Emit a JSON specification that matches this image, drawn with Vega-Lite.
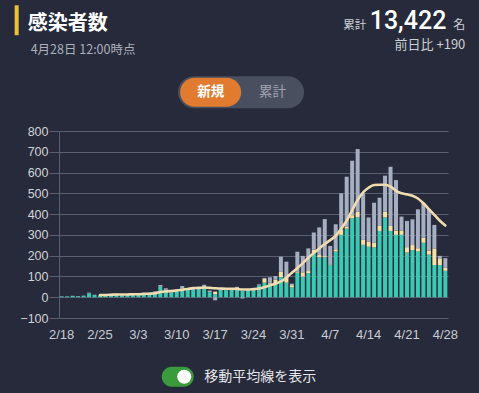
{
  "$schema": "https://vega.github.io/schema/vega-lite/v6.json",
  "width": 389,
  "height": 187,
  "autosize": {"type": "none"},
  "padding": {"left": 59, "top": 131, "right": 31, "bottom": 75},
  "background": "#262A3A",
  "config": {
    "view": {"stroke": null},
    "font": "Noto Sans CJK JP",
    "axis": {"labelFont": "Liberation Sans"},
    "axisY": {
      "labelOverlap": false,
      "tickCount": 10,
      "grid": true,
      "gridColor": "#5A5F6F",
      "domainColor": "#5A5F6F",
      "tickColor": "#5A5F6F",
      "tickSize": 10,
      "labelPadding": 1,
      "labelFontSize": 12.5,
      "labelColor": "#D0D3DA"
    }
  },
  "data": {
    "values": [
      {"d": "2/18", "domestic": 4, "port": 0, "unknown": 1},
      {"d": "2/19", "domestic": 4, "port": 0, "unknown": 1},
      {"d": "2/20", "domestic": 6, "port": 0, "unknown": 1},
      {"d": "2/21", "domestic": 5, "port": 0, "unknown": 1},
      {"d": "2/22", "domestic": 7, "port": 0, "unknown": 1},
      {"d": "2/23", "domestic": 19, "port": 0, "unknown": 3},
      {"d": "2/24", "domestic": 11, "port": 0, "unknown": 1},
      {"d": "2/25", "domestic": 9, "port": 0, "unknown": 1, "avg": 10},
      {"d": "2/26", "domestic": 12, "port": 0, "unknown": 1, "avg": 11},
      {"d": "2/27", "domestic": 15, "port": 0, "unknown": 1, "avg": 12},
      {"d": "2/28", "domestic": 15, "port": 0, "unknown": 2, "avg": 13},
      {"d": "2/29", "domestic": 10, "port": 0, "unknown": 2, "avg": 13},
      {"d": "3/1", "domestic": 12, "port": 0, "unknown": 1, "avg": 13},
      {"d": "3/2", "domestic": 14, "port": 0, "unknown": 2, "avg": 14},
      {"d": "3/3", "domestic": 13, "port": 0, "unknown": 2, "avg": 14},
      {"d": "3/4", "domestic": 18, "port": 0, "unknown": 2, "avg": 16},
      {"d": "3/5", "domestic": 20, "port": 0, "unknown": 2, "avg": 17},
      {"d": "3/6", "domestic": 25, "port": 0, "unknown": 3, "avg": 19},
      {"d": "3/7", "domestic": 50, "port": 0, "unknown": 9, "avg": 25},
      {"d": "3/8", "domestic": 32, "port": 4, "unknown": 7, "avg": 28},
      {"d": "3/9", "domestic": 24, "port": 0, "unknown": 4, "avg": 30},
      {"d": "3/10", "domestic": 30, "port": 0, "unknown": 8, "avg": 32},
      {"d": "3/11", "domestic": 40, "port": 2, "unknown": 12, "avg": 36},
      {"d": "3/12", "domestic": 38, "port": 0, "unknown": 6, "avg": 40},
      {"d": "3/13", "domestic": 36, "port": 0, "unknown": 6, "avg": 44},
      {"d": "3/14", "domestic": 40, "port": 0, "unknown": 5, "avg": 45},
      {"d": "3/15", "domestic": 42, "port": 4, "unknown": 14, "avg": 47},
      {"d": "3/16", "domestic": 24, "port": 0, "unknown": 8, "avg": 45},
      {"d": "3/17", "domestic": 15, "port": 12, "unknown": -15, "avg": 43},
      {"d": "3/18", "domestic": 36, "port": 0, "unknown": 4, "avg": 42},
      {"d": "3/19", "domestic": 34, "port": 0, "unknown": 4, "avg": 41},
      {"d": "3/20", "domestic": 36, "port": 0, "unknown": 4, "avg": 41},
      {"d": "3/21", "domestic": 38, "port": 0, "unknown": 12, "avg": 40},
      {"d": "3/22", "domestic": 30, "port": 0, "unknown": -6, "avg": 37},
      {"d": "3/23", "domestic": 34, "port": 0, "unknown": 3, "avg": 37},
      {"d": "3/24", "domestic": 40, "port": 0, "unknown": 4, "avg": 39},
      {"d": "3/25", "domestic": 58, "port": 0, "unknown": 4, "avg": 42},
      {"d": "3/26", "domestic": 70, "port": 18, "unknown": 5, "avg": 49},
      {"d": "3/27", "domestic": 65, "port": 5, "unknown": 26, "avg": 57},
      {"d": "3/28", "domestic": 62, "port": 22, "unknown": 18, "avg": 65},
      {"d": "3/29", "domestic": 97, "port": 25, "unknown": 73, "avg": 76},
      {"d": "3/30", "domestic": 70, "port": 27, "unknown": 74, "avg": 94},
      {"d": "3/31", "domestic": 48, "port": 10, "unknown": 7, "avg": 118},
      {"d": "4/1", "domestic": 118, "port": 6, "unknown": 95, "avg": 140},
      {"d": "4/2", "domestic": 99, "port": 21, "unknown": 79, "avg": 164},
      {"d": "4/3", "domestic": 116, "port": 10, "unknown": 109, "avg": 190},
      {"d": "4/4", "domestic": 212, "port": 16, "unknown": 84, "avg": 213},
      {"d": "4/5", "domestic": 192, "port": 11, "unknown": 133, "avg": 235},
      {"d": "4/6", "domestic": 192, "port": 6, "unknown": 178, "avg": 256},
      {"d": "4/7", "domestic": 155, "port": 3, "unknown": 89, "avg": 275},
      {"d": "4/8", "domestic": 220, "port": 11, "unknown": 120, "avg": 295},
      {"d": "4/9", "domestic": 300, "port": 24, "unknown": 176, "avg": 330},
      {"d": "4/10", "domestic": 330, "port": 10, "unknown": 240, "avg": 368},
      {"d": "4/11", "domestic": 380, "port": 15, "unknown": 262, "avg": 418},
      {"d": "4/12", "domestic": 385, "port": 26, "unknown": 302, "avg": 468},
      {"d": "4/13", "domestic": 252, "port": 24, "unknown": 224, "avg": 505},
      {"d": "4/14", "domestic": 243, "port": 24, "unknown": 117, "avg": 527},
      {"d": "4/15", "domestic": 240, "port": 22, "unknown": 193, "avg": 540},
      {"d": "4/16", "domestic": 319, "port": 24, "unknown": 136, "avg": 541},
      {"d": "4/17", "domestic": 384, "port": 27, "unknown": 174, "avg": 541},
      {"d": "4/18", "domestic": 319, "port": 24, "unknown": 285, "avg": 532},
      {"d": "4/19", "domestic": 300, "port": 21, "unknown": 243, "avg": 512},
      {"d": "4/20", "domestic": 300, "port": 21, "unknown": 67, "avg": 500},
      {"d": "4/21", "domestic": 215, "port": 26, "unknown": 126, "avg": 495},
      {"d": "4/22", "domestic": 227, "port": 24, "unknown": 124, "avg": 488},
      {"d": "4/23", "domestic": 220, "port": 16, "unknown": 187, "avg": 475},
      {"d": "4/24", "domestic": 262, "port": 24, "unknown": 166, "avg": 452},
      {"d": "4/25", "domestic": 205, "port": 20, "unknown": 200, "avg": 424},
      {"d": "4/26", "domestic": 155, "port": 80, "unknown": 113, "avg": 396},
      {"d": "4/27", "domestic": 155, "port": 29, "unknown": 15, "avg": 368},
      {"d": "4/28", "domestic": 127, "port": 16, "unknown": 45, "avg": 345}
    ]
  },
  "encoding": {
    "x": {
      "field": "d",
      "type": "ordinal",
      "sort": null,
      "scale": {
        "domain": ["2/18","2/19","2/20","2/21","2/22","2/23","2/24","2/25","2/26","2/27","2/28","2/29","3/1","3/2","3/3","3/4","3/5","3/6","3/7","3/8","3/9","3/10","3/11","3/12","3/13","3/14","3/15","3/16","3/17","3/18","3/19","3/20","3/21","3/22","3/23","3/24","3/25","3/26","3/27","3/28","3/29","3/30","3/31","4/1","4/2","4/3","4/4","4/5","4/6","4/7","4/8","4/9","4/10","4/11","4/12","4/13","4/14","4/15","4/16","4/17","4/18","4/19","4/20","4/21","4/22","4/23","4/24","4/25","4/26","4/27","4/28"],
        "paddingInner": 0.27,
        "paddingOuter": 0.12
      },
      "axis": {
        "title": null,
        "values": ["2/18","2/25","3/3","3/10","3/17","3/24","3/31","4/7","4/14","4/21","4/28"],
        "labelAngle": 0,
        "labelOverlap": false,
        "ticks": false,
        "domain": false,
        "labelPadding": 10,
        "labelFontSize": 13,
        "labelColor": "#C9CDD5"
      }
    }
  },
  "layer": [
    {
      "transform": [{"fold": ["domestic", "port", "unknown"], "as": ["cat", "n"]}],
      "mark": {"type": "bar"},
      "encoding": {
        "y": {
          "field": "n",
          "type": "quantitative",
          "stack": "zero",
          "scale": {"domain": [-100, 800], "nice": false, "zero": false},
          "axis": {
            "title": null,
            "values": [-100, 0, 100, 200, 300, 400, 500, 600, 700, 800],
            "labelOverlap": false
          }
        },
        "color": {
          "field": "cat",
          "type": "nominal",
          "scale": {"domain": ["domestic", "port", "unknown"], "range": ["#3CC9B4", "#F6E2A4", "#A6AFC2"]},
          "legend": null
        },
        "order": {"field": "cat", "type": "nominal", "sort": "ascending"}
      }
    },
    {
      "mark": {"type": "line", "color": "#EFDDB0", "strokeWidth": 2.6, "interpolate": "monotone", "strokeCap": "round"},
      "encoding": {
        "y": {"field": "avg", "type": "quantitative", "axis": {"title": null, "values": [-100, 0, 100, 200, 300, 400, 500, 600, 700, 800], "labelOverlap": false}}
      }
    },
    {
      "data": {"values": [{}]},
      "mark": {"type": "rule", "color": "#E8C33A", "strokeWidth": 4, "xOffset": -45},
      "encoding": {
        "x": {"datum": "2/18", "type": "ordinal"},
        "y": {"datum": 1405, "type": "quantitative"},
        "y2": {"datum": 1261}
      }
    },
    {
      "data": {"values": [{}]},
      "mark": {"type": "text", "align": "left", "baseline": "alphabetic", "dx": -34, "fontSize": 20, "fontWeight": "bold", "color": "#FFFFFF", "text": "感染者数"},
      "encoding": {
        "x": {"datum": "2/18", "type": "ordinal"},
        "y": {"datum": 1287, "type": "quantitative"}
      }
    },
    {
      "data": {"values": [{}]},
      "mark": {"type": "text", "align": "left", "baseline": "alphabetic", "dx": -31, "fontSize": 12.5, "color": "#ABB0BA", "text": "4月28日 12:00時点"},
      "encoding": {
        "x": {"datum": "2/18", "type": "ordinal"},
        "y": {"datum": 1172, "type": "quantitative"}
      }
    },
    {
      "data": {"values": [{}]},
      "mark": {"type": "text", "align": "right", "baseline": "alphabetic", "dx": -79, "fontSize": 11.5, "color": "#CDD1D8", "text": "累計"},
      "encoding": {
        "x": {"datum": "4/28", "type": "ordinal"},
        "y": {"datum": 1289, "type": "quantitative"}
      }
    },
    {
      "data": {"values": [{}]},
      "mark": {"type": "text", "align": "right", "baseline": "alphabetic", "dx": 1, "font": "Roboto", "fontSize": 25, "fontWeight": 500, "color": "#FFFFFF", "text": "13,422"},
      "encoding": {
        "x": {"datum": "4/28", "type": "ordinal"},
        "y": {"datum": 1291, "type": "quantitative"}
      }
    },
    {
      "data": {"values": [{}]},
      "mark": {"type": "text", "align": "right", "baseline": "alphabetic", "dx": 20, "fontSize": 12, "color": "#CDD1D8", "text": "名"},
      "encoding": {
        "x": {"datum": "4/28", "type": "ordinal"},
        "y": {"datum": 1289, "type": "quantitative"}
      }
    },
    {
      "data": {"values": [{}]},
      "mark": {"type": "text", "align": "right", "baseline": "alphabetic", "dx": 20, "fontSize": 13, "color": "#CDD1D8", "text": "前日比 +190"},
      "encoding": {
        "x": {"datum": "4/28", "type": "ordinal"},
        "y": {"datum": 1196, "type": "quantitative"}
      }
    },
    {
      "data": {"values": [{}]},
      "mark": {"type": "point", "filled": true, "opacity": 1, "color": "#4A4F5F", "strokeWidth": 0, "size": 15876, "xOffset": 4,
        "shape": "M -0.746 -0.254 L 0.746 -0.254 A 0.254 0.254 0 0 1 0.746 0.254 L -0.746 0.254 A 0.254 0.254 0 0 1 -0.746 -0.254 Z"},
      "encoding": {
        "x": {"datum": "3/21", "type": "ordinal"},
        "y": {"datum": 987, "type": "quantitative"}
      }
    },
    {
      "data": {"values": [{}]},
      "mark": {"type": "point", "filled": true, "opacity": 1, "color": "#E07B30", "strokeWidth": 0, "size": 3721, "xOffset": 1,
        "shape": "M -0.525 -0.475 L 0.525 -0.475 A 0.475 0.475 0 0 1 0.525 0.475 L -0.525 0.475 A 0.475 0.475 0 0 1 -0.525 -0.475 Z"},
      "encoding": {
        "x": {"datum": "3/16", "type": "ordinal"},
        "y": {"datum": 987, "type": "quantitative"}
      }
    },
    {
      "data": {"values": [{}]},
      "mark": {"type": "text", "align": "center", "baseline": "middle", "dx": 1, "fontSize": 13.5, "fontWeight": "bold", "color": "#FFFFFF", "text": "新規"},
      "encoding": {
        "x": {"datum": "3/16", "type": "ordinal"},
        "y": {"datum": 987, "type": "quantitative"}
      }
    },
    {
      "data": {"values": [{}]},
      "mark": {"type": "text", "align": "center", "baseline": "middle", "dx": 2.5, "fontSize": 13.5, "color": "#A0A5B0", "text": "累計"},
      "encoding": {
        "x": {"datum": "3/27", "type": "ordinal"},
        "y": {"datum": 987, "type": "quantitative"}
      }
    },
    {
      "data": {"values": [{}]},
      "mark": {"type": "point", "filled": true, "opacity": 1, "color": "#3A9B3C", "strokeWidth": 0, "size": 1024, "xOffset": 1,
        "shape": "M -0.375 -0.625 L 0.375 -0.625 A 0.625 0.625 0 0 1 0.375 0.625 L -0.375 0.625 A 0.625 0.625 0 0 1 -0.375 -0.625 Z"},
      "encoding": {
        "x": {"datum": "3/10", "type": "ordinal"},
        "y": {"datum": -383, "type": "quantitative"}
      }
    },
    {
      "data": {"values": [{}]},
      "mark": {"type": "point", "filled": true, "opacity": 1, "color": "#FFFFFF", "strokeWidth": 0, "size": 200, "shape": "circle", "xOffset": 2},
      "encoding": {
        "x": {"datum": "3/11", "type": "ordinal"},
        "y": {"datum": -383, "type": "quantitative"}
      }
    },
    {
      "data": {"values": [{}]},
      "mark": {"type": "text", "align": "left", "baseline": "middle", "fontSize": 14, "color": "#E6E7EA", "text": "移動平均線を表示"},
      "encoding": {
        "x": {"datum": "3/15", "type": "ordinal"},
        "y": {"datum": -383, "type": "quantitative"}
      }
    }
  ]
}
